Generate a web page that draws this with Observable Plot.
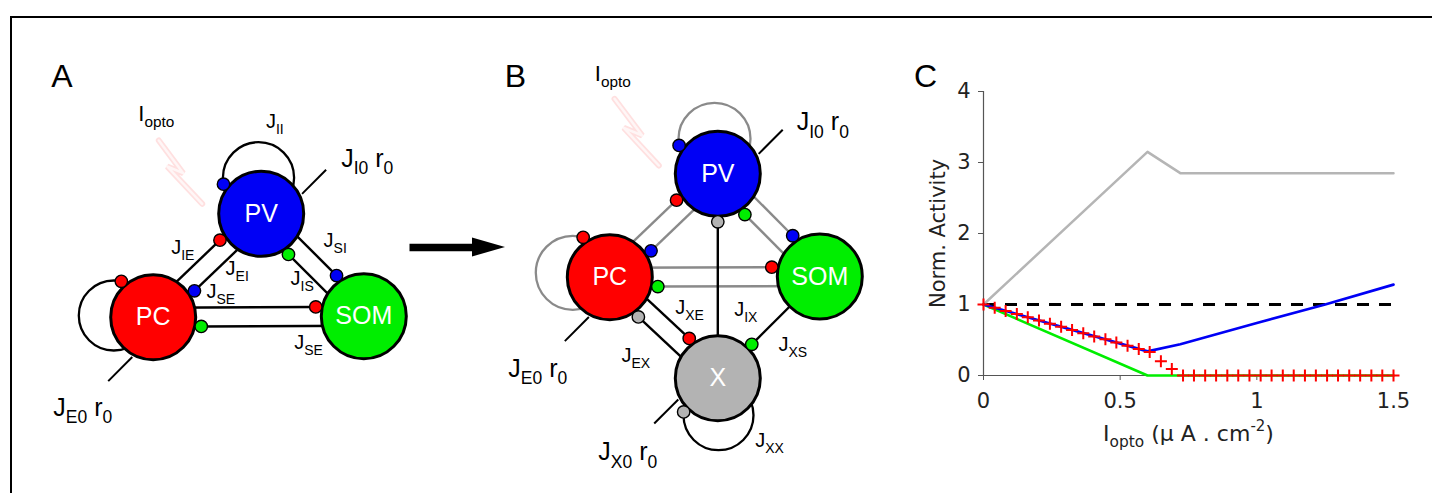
<!DOCTYPE html>
<html>
<head>
<meta charset="utf-8">
<script src="https://cdn.jsdelivr.net/npm/d3@7"></script>
<script src="https://cdn.jsdelivr.net/npm/@observablehq/plot@0.6"></script>
<style>
  html, body { margin: 0; padding: 0; background: #fff; }
  #fig { position: relative; width: 1432px; height: 493px; overflow: hidden; background: #fff; }
  #frame { position: absolute; left: 10px; top: 16px; right: -10px; bottom: -10px;
           border-top: 2px solid #000; border-left: 2px solid #000; }
  #diag { position: absolute; left: 0; top: 0; }
  #chart { position: absolute; left: 880px; top: 40px; }
</style>
</head>
<body>
<div id="fig">
  <div id="frame"></div>
  <div id="diag"></div>
  <div id="chart"></div>
</div>
<script>
// ================= Panel C : values =================
const cTicksX = [0, 0.5, 1, 1.5];
const cTicksY = [0, 1, 2, 3, 4];
const baselineLevel = [1];

// X population (gray)
const xX = [0, 0.6, 0.72, 1.5];
const rX = [1, 3.15, 2.85, 2.85];
// PV (blue)
const xPV = [0, 0.6, 0.72, 1.0, 1.25, 1.5];
const rPV = [1, 0.34, 0.44, 0.74, 1.0, 1.28];
// SOM (green)
const xSOM = [0, 0.6, 1.5];
const rSOM = [1, 0, 0];
// PC (red crosses)
const xPC = [0, 0.041, 0.081, 0.122, 0.162, 0.203, 0.243, 0.284, 0.324, 0.365,
             0.405, 0.446, 0.486, 0.527, 0.568, 0.608, 0.649, 0.689, 0.730, 0.770,
             0.811, 0.851, 0.892, 0.932, 0.973, 1.014, 1.054, 1.095, 1.135, 1.176,
             1.216, 1.257, 1.297, 1.338, 1.378, 1.419, 1.459, 1.5];
const rPC = [1.0, 0.955, 0.91, 0.865, 0.82, 0.775, 0.73, 0.685, 0.64, 0.595,
             0.55, 0.51, 0.465, 0.42, 0.375, 0.33, 0.20, 0.09, 0, 0,
             0, 0, 0, 0, 0, 0, 0, 0, 0, 0,
             0, 0, 0, 0, 0, 0, 0, 0];

// ================= Panels A & B : network layout =================
const nodesA = [
  {panel: "A", name: "PV",  x: 260.7, y: 213.3},
  {panel: "A", name: "PC",  x: 152.7, y: 316.7},
  {panel: "A", name: "SOM", x: 363.3, y: 315.7}
];
const nodesB = [
  {panel: "B", name: "PV",  x: 717.3, y: 173.3},
  {panel: "B", name: "PC",  x: 609.3, y: 276.7},
  {panel: "B", name: "SOM", x: 819.3, y: 276.0},
  {panel: "B", name: "X",   x: 717.3, y: 377.7}
];
// connections source -> target (dot of source colour at target)
const edgesA = [["PC","PV"],["PV","PC"],["PV","SOM"],["SOM","PV"],["PC","SOM"],["SOM","PC"]];
const edgesB = [["PC","PV"],["PV","PC"],["PV","SOM"],["SOM","PV"],["PC","SOM"],["SOM","PC"],
                ["X","PV"],["PC","X"],["X","PC"],["SOM","X"]];
// self loops: loop centre offset from node centre, loop radius, side of the synapse
const loopsA = [
  {node: "PV", dx: -2.7, dy: -36, r: 35.6, side: -1},
  {node: "PC", dx: -39.4, dy: -1.7, r: 35, side: 1}
];
const loopsB = [
  {node: "PV", dx: -3.3, dy: -35, r: 36, side: -1},
  {node: "PC", dx: -37, dy: -4.4, r: 37, side: 1},
  {node: "X",  dx: 0.7, dy: 37, r: 35, side: 1}
];
// external inputs: direction (deg), perpendicular offset
const inputsA = [
  {node: "PV", angle: -45, off: 14.8},
  {node: "PC", angle: 135, off: -13.4}
];
const inputsB = [
  {node: "PV", angle: -45, off: 14.8},
  {node: "PC", angle: 135, off: -13.4},
  {node: "X",  angle: 135, off: 12.9}
];
// labels
const smallLabels = [
  {t: "J_{II}", x: 274.3, y: 120.7},
  {t: "J_{IE}", x: 182.3, y: 247},
  {t: "J_{EI}", x: 236.7, y: 268.3},
  {t: "J_{SE}", x: 220.3, y: 290.7},
  {t: "J_{SI}", x: 334.7, y: 240},
  {t: "J_{IS}", x: 301.7, y: 277.7},
  {t: "J_{SE}", x: 308, y: 341.7},
  {t: "J_{XE}", x: 689, y: 307.3},
  {t: "J_{IX}", x: 745.3, y: 309},
  {t: "J_{XS}", x: 792.3, y: 344},
  {t: "J_{EX}", x: 635.3, y: 355},
  {t: "J_{XX}", x: 769, y: 440}
];
const inputLabels = [
  {t: "J_{I0} r_{0}", x: 366.7, y: 158.3},
  {t: "J_{E0} r_{0}", x: 82.3, y: 407.3},
  {t: "J_{I0} r_{0}", x: 822.3, y: 121.7},
  {t: "J_{E0} r_{0}", x: 537.3, y: 368.3},
  {t: "J_{X0} r_{0}", x: 627.3, y: 451.7}
];
const optoLabels = [
  {t: "I_{opto}", x: 155.8, y: 113.3},
  {t: "I_{opto}", x: 612.3, y: 73.3}
];
const panelLetters = [
  {t: "A", x: 61.3, y: 76.7},
  {t: "B", x: 515, y: 76},
  {t: "C", x: 925, y: 76.7}
];
const bolts = [
  {id: "A", pts: [[158.3,140],[182.7,172.7],[166.7,166],[201.7,203.3]]},
  {id: "B", pts: [[614,98.3],[641.7,135],[623.3,127.3],[658.3,165]]}
];
const bigArrow = {x1: 409, x2: 505, y: 247, head: 33, half: 9.5};

// ================= styles =================
const nodeColor = {PV: "#0000f5", PC: "#ff0000", SOM: "#00ee00", X: "#b3b3b3"};
const NODE_R = 44, SYN_DIST = 48, PAIR_OFF = 9.5, IN_T0 = 43, IN_T1 = 77;
const plusSymbol = {
  draw(ctx) { const a = 6; ctx.moveTo(-a, 0); ctx.lineTo(a, 0); ctx.moveTo(0, -a); ctx.lineTo(0, a); }
};

// ================= geometry helpers =================
function buildNet(nodes, edges, loops, inputs, panel) {
  const byName = Object.fromEntries(nodes.map(n => [n.name, n]));
  const segs = [], dots = [], loopRows = [], inSegs = [];
  const has = (a, b) => edges.some(e => e[0] === a && e[1] === b);
  for (const [s, t] of edges) {
    const S = byName[s], T = byName[t];
    const dx = T.x - S.x, dy = T.y - S.y, L = Math.hypot(dx, dy);
    const ux = dx / L, uy = dy / L, nx = -uy, ny = ux;
    const off = has(t, s) ? -PAIR_OFF : 0;
    const px = T.x - ux * SYN_DIST + nx * off, py = T.y - uy * SYN_DIST + ny * off;
    const gray = panel === "B" && s !== "X" && t !== "X";
    segs.push({x1: S.x + nx * off, y1: S.y + ny * off, x2: px, y2: py, color: gray ? "#8a8a8a" : "#000"});
    dots.push({x: px, y: py, color: nodeColor[s]});
  }
  for (const lp of loops) {
    const N = byName[lp.node];
    const cx = N.x + lp.dx, cy = N.y + lp.dy;
    const d = Math.hypot(lp.dx, lp.dy), ux = lp.dx / d, uy = lp.dy / d, nx = -uy, ny = ux;
    const R = SYN_DIST;
    const a = (R * R - lp.r * lp.r + d * d) / (2 * d);
    const h = Math.sqrt(Math.max(0, R * R - a * a));
    const gray = panel === "B" && lp.node !== "X";
    loopRows.push({x: cx, y: cy, r: lp.r, color: gray ? "#8a8a8a" : "#000"});
    dots.push({x: N.x + ux * a + nx * h * lp.side, y: N.y + uy * a + ny * h * lp.side, color: nodeColor[lp.node]});
  }
  for (const ip of inputs) {
    const N = byName[ip.node];
    const ang = ip.angle * Math.PI / 180, ux = Math.cos(ang), uy = Math.sin(ang), nx = -uy, ny = ux;
    inSegs.push({x1: N.x + ux * IN_T0 + nx * ip.off, y1: N.y + uy * IN_T0 + ny * ip.off,
                 x2: N.x + ux * IN_T1 + nx * ip.off, y2: N.y + uy * IN_T1 + ny * ip.off});
  }
  return {segs, dots, loopRows, inSegs};
}
const netA = buildNet(nodesA, edgesA, loopsA, inputsA, "A");
const netB = buildNet(nodesB, edgesB, loopsB, inputsB, "B");
const allNodes = [...nodesA, ...nodesB].map(n => ({...n, color: nodeColor[n.name]}));
const boltRows = bolts.flatMap(b => b.pts.map(([x, y]) => ({id: b.id, x, y})));
const arrowShaft = [{x1: bigArrow.x1, x2: bigArrow.x2 - bigArrow.head + 2, y1: bigArrow.y, y2: bigArrow.y}];
const arrowHead = [
  {x: bigArrow.x2 - bigArrow.head, y1: bigArrow.y - bigArrow.half, y2: bigArrow.y + bigArrow.half},
  {x: bigArrow.x2, y1: bigArrow.y, y2: bigArrow.y}
];

// ================= rich text (sub/superscripts) =================
function richify(svg) {
  svg.querySelectorAll("text").forEach(t => {
    const s = t.textContent;
    if (!/[_^]\{/.test(s)) return;
    const fs = parseFloat(getComputedStyle(t).fontSize) || 16;
    const parts = [...s.matchAll(/([_^])\{([^}]*)\}|([^_^]+)/g)];
    while (t.firstChild) t.removeChild(t.firstChild);
    t.style.whiteSpace = "pre";
    let shift = 0;
    for (const m of parts) {
      const ts = document.createElementNS("http://www.w3.org/2000/svg", "tspan");
      let target = 0, size = null;
      if (m[1] === "_") { target = 0.3 * fs; size = 0.7 * fs; ts.textContent = m[2]; }
      else if (m[1] === "^") { target = -0.42 * fs; size = 0.68 * fs; ts.textContent = m[2]; }
      else { ts.textContent = m[3]; }
      if (size) ts.setAttribute("font-size", size);
      if (target !== shift) { ts.setAttribute("dy", target - shift); shift = target; }
      t.appendChild(ts);
    }
  });
}

// ================= diagram plot (A, B + panel letters) =================
const diag = Plot.plot({
  width: 1432, height: 493, margin: 0,
  x: {domain: [0, 1432], range: [0, 1432], axis: null},
  y: {domain: [0, 493], range: [0, 493], axis: null},
  color: {type: "identity"},
  r: {type: "identity"},
  style: {background: "transparent", fontFamily: "'Liberation Sans', Arial, sans-serif", overflow: "visible"},
  marks: [
    Plot.line(boltRows, {x: "x", y: "y", z: "id", stroke: "#ffe0e0", strokeWidth: 6, strokeLinejoin: "miter"}),
    Plot.line(boltRows, {x: "x", y: "y", z: "id", stroke: "#fff6f6", strokeWidth: 2.5}),
    Plot.link([...netA.segs, ...netB.segs], {x1: "x1", y1: "y1", x2: "x2", y2: "y2", stroke: "color", strokeWidth: 2.4}),
    Plot.link([...netA.inSegs, ...netB.inSegs], {x1: "x1", y1: "y1", x2: "x2", y2: "y2", stroke: "#000", strokeWidth: 2}),
    Plot.dot([...netA.loopRows, ...netB.loopRows], {x: "x", y: "y", r: "r", fill: "none", stroke: "color", strokeWidth: 2.3}),
    Plot.link(arrowShaft, {x1: "x1", y1: "y1", x2: "x2", y2: "y2", stroke: "#000", strokeWidth: 7.7}),
    Plot.areaY(arrowHead, {x: "x", y1: "y1", y2: "y2", fill: "#000"}),
    Plot.dot(allNodes, {x: "x", y: "y", r: NODE_R - 1.5, fill: "color", stroke: "#000", strokeWidth: 3}),
    Plot.dot([...netA.dots, ...netB.dots], {x: "x", y: "y", r: 6.2, fill: "color", stroke: "#000", strokeWidth: 1.4}),
    Plot.text(allNodes, {x: "x", y: "y", text: "name", fill: "#fff", fontSize: 25}),
    Plot.text(smallLabels, {x: "x", y: "y", text: "t", fill: "#000", fontSize: 20}),
    Plot.text(inputLabels, {x: "x", y: "y", text: "t", fill: "#000", fontSize: 25}),
    Plot.text(optoLabels, {x: "x", y: "y", text: "t", fill: "#000", fontSize: 22}),
    Plot.text(panelLetters, {x: "x", y: "y", text: "t", fill: "#000", fontSize: 32})
  ]
});
document.getElementById("diag").append(diag);
richify(diag);

// ================= panel C chart =================
const rows = (xs, ys) => xs.map((x, i) => ({x, y: ys[i]}));
const chart = Plot.plot({
  width: 552, height: 453,
  marginLeft: 103, marginRight: 39, marginTop: 51, marginBottom: 118,
  x: {domain: [0, 1.5]},
  y: {domain: [0, 4]},
  style: {background: "transparent", fontFamily: "'DejaVu Sans', sans-serif", color: "#222", overflow: "visible"},
  marks: [
    Plot.ruleX([0], {stroke: "#555", strokeWidth: 1.2}),
    Plot.ruleY([0], {stroke: "#555", strokeWidth: 1.2}),
    Plot.axisX({ticks: cTicksX, tickFormat: d => String(d), tickSize: 5, tickPadding: 13, label: null, fontSize: 21, stroke: "#555"}),
    Plot.axisY({ticks: cTicksY, tickFormat: d => String(d), tickSize: 5, tickPadding: 8, label: null, fontSize: 21, stroke: "#555"}),
    Plot.ruleY(baselineLevel, {stroke: "#000", strokeWidth: 3, strokeDasharray: "12,10"}),
    Plot.line(rows(xX, rX), {x: "x", y: "y", stroke: "#b5b5b5", strokeWidth: 2.5}),
    Plot.line(rows(xSOM, rSOM), {x: "x", y: "y", stroke: "#00ee00", strokeWidth: 2.6}),
    Plot.line(rows(xPV, rPV), {x: "x", y: "y", stroke: "#0000f5", strokeWidth: 2.7}),
    Plot.dot(rows(xPC, rPC), {x: "x", y: "y", symbol: plusSymbol, r: 6, fill: "none", stroke: "#ff0000", strokeWidth: 2}),
    Plot.text(["Norm. Activity"], {frameAnchor: "left", textAnchor: "middle", lineAnchor: "middle", dx: -45, rotate: -90, fontSize: 21, fill: "#222"}),
    Plot.text(["I_{opto} (μ A . cm^{-2})"], {frameAnchor: "bottom", textAnchor: "middle", lineAnchor: "middle", dy: 58, fontSize: 22, fill: "#222"})
  ]
});
document.getElementById("chart").append(chart);
richify(chart);
</script>
</body>
</html>
